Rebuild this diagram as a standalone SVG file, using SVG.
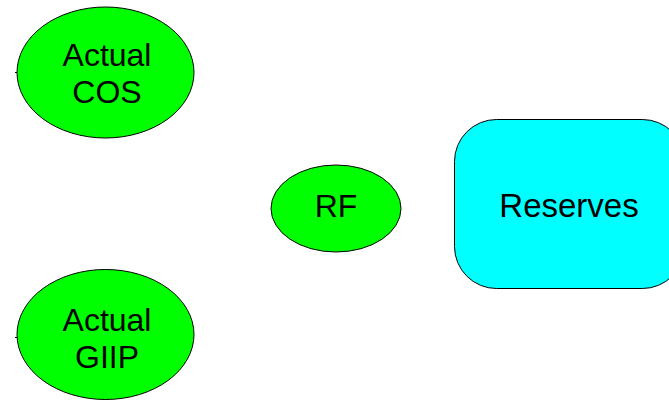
<svg xmlns="http://www.w3.org/2000/svg" width="669" height="400" viewBox="0 0 669 400">
  <style>
    .chance { fill: #00ff00; stroke: #000; stroke-width: 1; }
    .value { fill: #00ffff; stroke: #000; stroke-width: 1; }
    .label { font-family: "Liberation Sans", Arial, sans-serif; font-size: 32px; fill: #000; text-anchor: middle; }
    .big { font-size: 33px; }
    .stub { stroke: #000; stroke-width: 1; fill: none; }
  </style>
  <rect width="669" height="400" fill="#fff"/>
  <g id="connectors">
    <line class="stub" x1="15" y1="72.5" x2="18" y2="72.5"/>
    <line class="stub" x1="15" y1="337.5" x2="18" y2="337.5"/>
  </g>
  <g id="actual-cos">
    <ellipse class="chance" cx="105.5" cy="72.5" rx="88.5" ry="65.5"/>
    <text class="label" x="107" y="65.5">Actual</text>
    <text class="label" x="107" y="102.5">COS</text>
  </g>
  <g id="actual-giip">
    <ellipse class="chance" cx="105.5" cy="334.5" rx="88.5" ry="65"/>
    <text class="label" x="107" y="330.5">Actual</text>
    <text class="label" x="107" y="367.5">GIIP</text>
  </g>
  <g id="rf">
    <ellipse class="chance" cx="336" cy="208.5" rx="65" ry="43.5"/>
    <text class="label" x="336" y="216.5">RF</text>
  </g>
  <g id="reserves">
    <rect class="value" x="454.5" y="119.5" width="230" height="169" rx="42" ry="42"/>
    <text class="label big" x="569" y="216.7">Reserves</text>
  </g>
</svg>
